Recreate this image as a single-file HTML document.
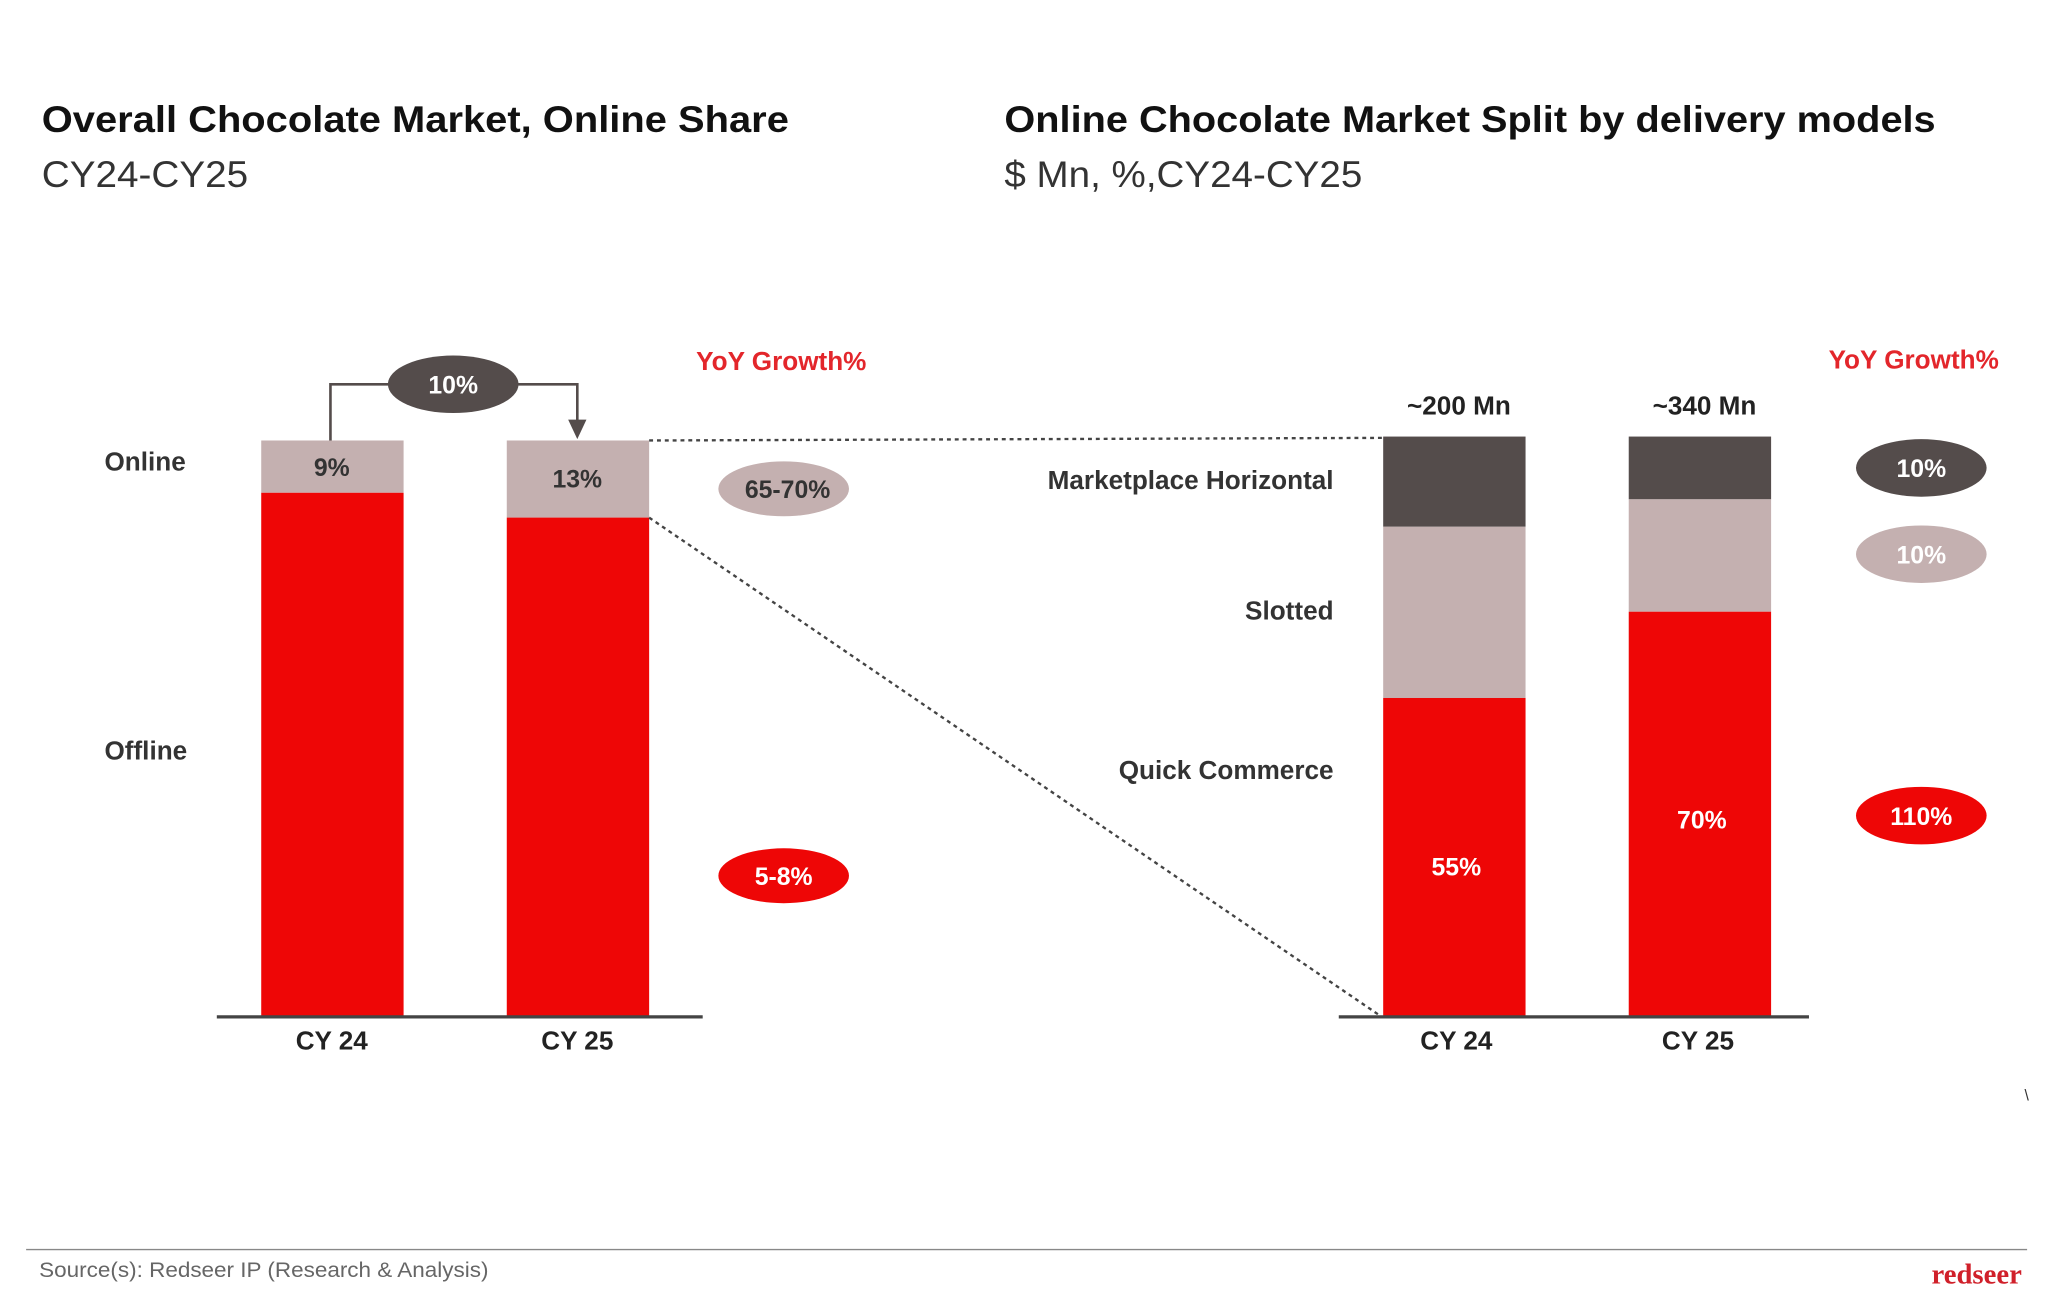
<!DOCTYPE html>
<html><head><meta charset="utf-8"><style>
html,body{margin:0;padding:0;background:#fff;}
svg{display:block;}
text{font-family:"Liberation Sans",sans-serif;}
</style></head><body>
<svg width="2048" height="1311" viewBox="0 0 1568 1003" preserveAspectRatio="none" xmlns="http://www.w3.org/2000/svg">
<rect width="1568" height="1003" fill="#fff"/>
<!-- titles -->
<text x="32" y="101" font-size="28" font-weight="bold" fill="#111" textLength="572" lengthAdjust="spacingAndGlyphs">Overall Chocolate Market, Online Share</text>
<text x="32" y="143" font-size="28" fill="#333" textLength="158" lengthAdjust="spacingAndGlyphs">CY24-CY25</text>
<text x="769" y="101" font-size="28" font-weight="bold" fill="#111" textLength="713" lengthAdjust="spacingAndGlyphs">Online Chocolate Market Split by delivery models</text>
<text x="769" y="143" font-size="28" fill="#333" textLength="274" lengthAdjust="spacingAndGlyphs">$ Mn, %,CY24-CY25</text>

<!-- LEFT CHART -->
<rect x="200" y="337" width="109" height="40" fill="#c4b0b0"/>
<rect x="200" y="377" width="109" height="401" fill="#ee0606"/>
<rect x="388" y="337" width="109" height="59" fill="#c4b0b0"/>
<rect x="388" y="396" width="109" height="382" fill="#ee0606"/>
<line x1="166" y1="778" x2="538" y2="778" stroke="#444" stroke-width="2.5"/>
<text x="254" y="364" font-size="19" font-weight="bold" fill="#333" text-anchor="middle">9%</text>
<text x="442" y="373" font-size="19" font-weight="bold" fill="#333" text-anchor="middle">13%</text>
<text x="254" y="803" font-size="20" font-weight="bold" fill="#222" text-anchor="middle">CY 24</text>
<text x="442" y="803" font-size="20" font-weight="bold" fill="#222" text-anchor="middle">CY 25</text>
<text x="80" y="360" font-size="20" font-weight="bold" fill="#333">Online</text>
<text x="80" y="581" font-size="20" font-weight="bold" fill="#333">Offline</text>
<!-- connector -->
<polyline points="253,337 253,294 300,294" fill="none" stroke="#544c4b" stroke-width="2"/>
<polyline points="394,294 442,294 442,324" fill="none" stroke="#544c4b" stroke-width="2"/>
<polygon points="435,321 449,321 442,336" fill="#544c4b"/>
<ellipse cx="347" cy="294" rx="50" ry="22" fill="#544c4b"/>
<text x="347" y="301" font-size="19" font-weight="bold" fill="#fff" text-anchor="middle">10%</text>
<text x="533" y="283" font-size="20" font-weight="bold" fill="#e3262b">YoY Growth%</text>
<ellipse cx="600" cy="374" rx="50" ry="21" fill="#c4b0b0"/>
<text x="603" y="381" font-size="19" font-weight="bold" fill="#333" text-anchor="middle">65-70%</text>
<ellipse cx="600" cy="670" rx="50" ry="21" fill="#ee0606"/>
<text x="600" y="677" font-size="19" font-weight="bold" fill="#fff" text-anchor="middle">5-8%</text>
<!-- dotted -->
<line x1="497" y1="337" x2="1058" y2="335" stroke="#444" stroke-width="1.8" stroke-dasharray="3,3"/>
<line x1="497" y1="396" x2="1058" y2="778" stroke="#444" stroke-width="1.8" stroke-dasharray="3,3"/>

<!-- RIGHT CHART -->
<rect x="1059" y="334" width="109" height="69" fill="#544c4b"/>
<rect x="1059" y="403" width="109" height="131" fill="#c4b0b0"/>
<rect x="1059" y="534" width="109" height="244" fill="#ee0606"/>
<rect x="1247" y="334" width="109" height="48" fill="#544c4b"/>
<rect x="1247" y="382" width="109" height="86" fill="#c4b0b0"/>
<rect x="1247" y="468" width="109" height="310" fill="#ee0606"/>
<line x1="1025" y1="778" x2="1385" y2="778" stroke="#444" stroke-width="2.5"/>
<text x="1117" y="317" font-size="20" font-weight="bold" fill="#222" text-anchor="middle">~200 Mn</text>
<text x="1305" y="317" font-size="20" font-weight="bold" fill="#222" text-anchor="middle">~340 Mn</text>
<text x="1021" y="374" font-size="20" font-weight="bold" fill="#333" text-anchor="end">Marketplace Horizontal</text>
<text x="1021" y="474" font-size="20" font-weight="bold" fill="#333" text-anchor="end">Slotted</text>
<text x="1021" y="596" font-size="20" font-weight="bold" fill="#333" text-anchor="end">Quick Commerce</text>
<text x="1115" y="670" font-size="19" font-weight="bold" fill="#fff" text-anchor="middle">55%</text>
<text x="1303" y="634" font-size="19" font-weight="bold" fill="#fff" text-anchor="middle">70%</text>
<text x="1115" y="803" font-size="20" font-weight="bold" fill="#222" text-anchor="middle">CY 24</text>
<text x="1300" y="803" font-size="20" font-weight="bold" fill="#222" text-anchor="middle">CY 25</text>
<text x="1400" y="282" font-size="20" font-weight="bold" fill="#e3262b">YoY Growth%</text>
<ellipse cx="1471" cy="358" rx="50" ry="22" fill="#544c4b"/>
<text x="1471" y="365" font-size="19" font-weight="bold" fill="#fff" text-anchor="middle">10%</text>
<ellipse cx="1471" cy="424" rx="50" ry="22" fill="#c4b0b0"/>
<text x="1471" y="431" font-size="19" font-weight="bold" fill="#fff" text-anchor="middle">10%</text>
<ellipse cx="1471" cy="624" rx="50" ry="22" fill="#ee0606"/>
<text x="1471" y="631" font-size="19" font-weight="bold" fill="#fff" text-anchor="middle">110%</text>
<text x="1550" y="842" font-size="12" fill="#333">\</text>

<!-- footer -->
<line x1="20" y1="956" x2="1552" y2="956" stroke="#888" stroke-width="1"/>
<text x="30" y="977" font-size="16" fill="#666" textLength="344" lengthAdjust="spacingAndGlyphs">Source(s): Redseer IP (Research &amp; Analysis)</text>
<text x="1548" y="982" font-size="22" font-weight="bold" fill="#d0202a" text-anchor="end" style="font-family:'Liberation Serif',serif">redseer</text>
</svg>
</body></html>
